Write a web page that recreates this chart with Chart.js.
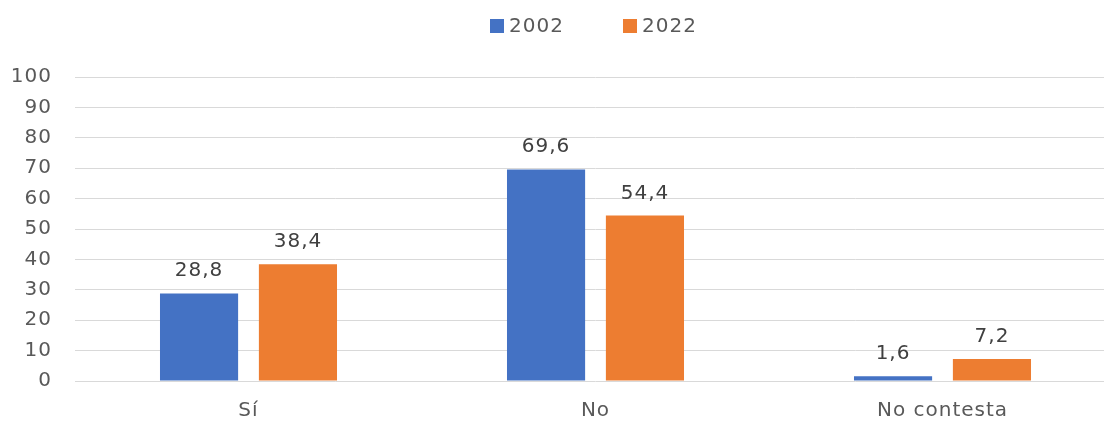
<!DOCTYPE html>
<html>
<head>
<meta charset="utf-8">
<script src="https://cdn.jsdelivr.net/npm/chart.js@4/dist/chart.umd.min.js"></script>
<style>
  html, body { margin: 0; padding: 0; background: #fff; overflow: hidden; }
  #wrap { width: 1116px; height: 421px; }
</style>
</head>
<body>
<div id="wrap"><canvas id="barChart"></canvas></div>
<script>
var categories = ["Sí", "No", "No contesta"];
var values2002 = [28.8, 69.6, 1.6];
var values2022 = [38.4, 54.4, 7.2];
var seriesNames = ["2002", "2022"];
var yTicks = [0, 10, 20, 30, 40, 50, 60, 70, 80, 90, 100];

var textColor = '#595959';
var fontFamily = '"DejaVu Sans", sans-serif';

// spacing of the letters, the original font is wide
var letterSpace = {
	id : 'letterSpace',
	beforeDraw : function(chart) {
		chart.ctx.letterSpacing = '1px';
	}
};

// value above each bar, with decimal comma
var valueLabels = {
	id : 'valueLabels',
	afterDatasetsDraw : function(chart) {
		var ctx = chart.ctx;
		ctx.save();
		ctx.font = '20px ' + fontFamily;
		ctx.fillStyle = '#404040';
		ctx.textAlign = 'center';
		ctx.textBaseline = 'alphabetic';
		chart.data.datasets.forEach(function(ds, i) {
			var meta = chart.getDatasetMeta(i);
			meta.data.forEach(function(bar, j) {
				var txt = ds.data[j].toFixed(1).replace('.', ',');
				ctx.fillText(txt, bar.x, bar.y - 17);
			});
		});
		ctx.restore();
	}
};

// legend on top, drawn by hand to get the wide gap between items
var topLegend = {
	id : 'topLegend',
	afterDraw : function(chart) {
		var ctx = chart.ctx;
		var xs = [ 490, 623 ];
		ctx.save();
		ctx.font = '20px ' + fontFamily;
		ctx.textBaseline = 'middle';
		ctx.textAlign = 'left';
		chart.data.datasets.forEach(function(ds, i) {
			ctx.fillStyle = ds.backgroundColor;
			ctx.fillRect(xs[i], 19, 14, 14);
			ctx.fillStyle = textColor;
			ctx.fillText(ds.label, xs[i] + 19, 27);
		});
		ctx.restore();
	}
};

var chart = new Chart(document.getElementById('barChart'), {
	type : 'bar',
	data : {
		labels : categories,
		datasets : [ {
			label : seriesNames[0],
			data : values2002,
			backgroundColor : '#4472C4',
			categoryPercentage : 0.57,
			barPercentage : 0.79
		}, {
			label : seriesNames[1],
			data : values2022,
			backgroundColor : '#ED7D31',
			categoryPercentage : 0.57,
			barPercentage : 0.79
		} ]
	},
	options : {
		responsive : true,
		maintainAspectRatio : false,
		animation : false,
		layout : {
			padding : { left : 0, right : 0, top : 77, bottom : 0 }
		},
		plugins : {
			legend : { display : false },
			tooltip : { enabled : false }
		},
		scales : {
			x : {
				grid : { display : false, drawTicks : false },
				border : { display : false },
				ticks : {
					color : textColor,
					padding : 18,
					font : { family : fontFamily, size : 20 }
				},
				afterFit : function(scale) {
					scale.height = 40;
				}
			},
			y : {
				min : 0,
				max : 100,
				afterBuildTicks : function(scale) {
					scale.ticks = yTicks.map(function(v) { return { value : v }; });
				},
				grid : { color : '#d9d9d9', lineWidth : 1, drawTicks : false },
				border : { display : false },
				ticks : {
					autoSkip : false,
					color : textColor,
					padding : 23,
					font : { family : fontFamily, size : 20 }
				},
				afterFit : function(scale) {
					scale.width = 75;
				}
			}
		}
	},
	plugins : [ letterSpace, valueLabels, topLegend ]
});
</script>
</body>
</html>
